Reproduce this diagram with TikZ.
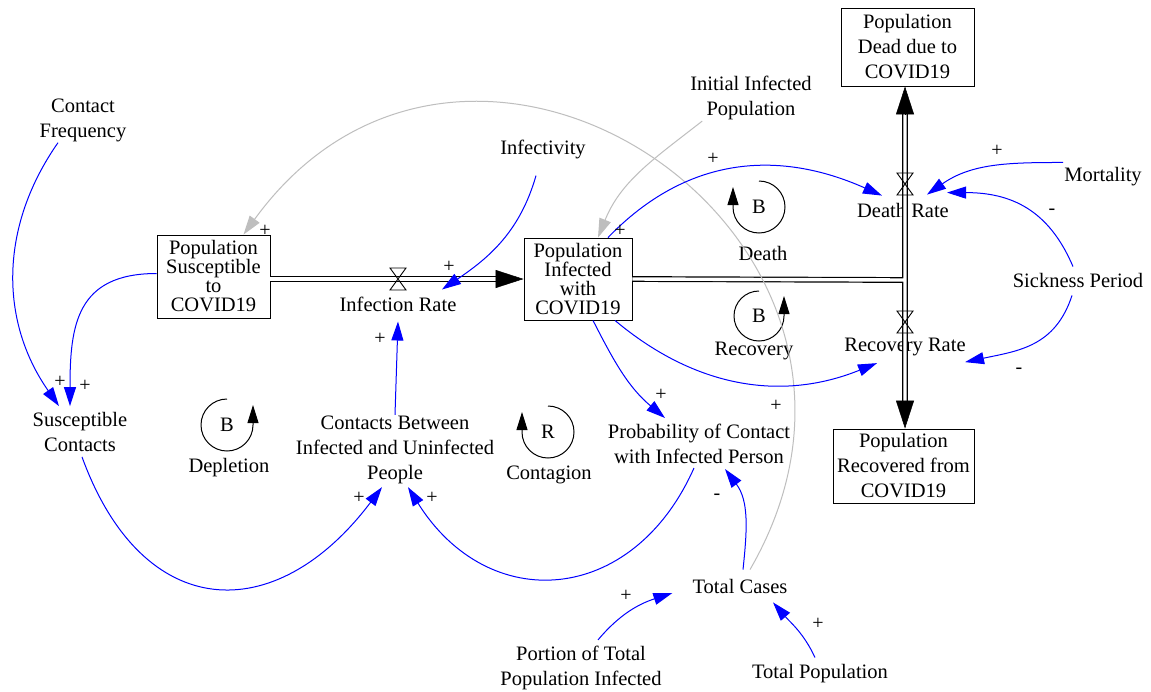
\documentclass[tikz,border=0pt]{standalone}
\usepackage{fontspec}
\setmainfont{Liberation Serif}
\usetikzlibrary{positioning,arrows.meta,calc}
\definecolor{linkblue}{RGB}{0,0,255}
\definecolor{linkgray}{RGB}{190,190,190}
\newcommand{\labelfont}{\fontsize{20.5}{25}\selectfont}
\newcommand{\tightfont}{\fontsize{20.5}{19}\selectfont\lineskiplimit=-20pt}
\newcommand{\hourglass}[1]{\draw[line width=0.9pt] (#1.north west) -- (#1.north east) -- (#1.south west) -- (#1.south east) -- cycle;}

\begin{document}
\begin{tikzpicture}[
    x=1pt, y=-1pt,
    stock/.style={rectangle, draw=black, line width=0.9pt, fill=white, align=center, font=\labelfont, inner sep=0pt},
    aux/.style={align=center, font=\labelfont, inner sep=1pt},
    sign/.style={font=\fontsize{20}{20}\selectfont, inner sep=0pt},
    loopsym/.style={font=\labelfont, inner sep=0pt},
    pipe/.style={draw=black, line width=1.2pt, double=white, double distance=3.4pt},
    pipehead/.style={-{Triangle[length=28pt,width=18pt]}, line width=0.5pt},
    valve/.style={minimum width=16pt, minimum height=22pt, inner sep=0pt, outer sep=0pt},
    link/.style={draw=linkblue, line width=1pt, -{Triangle[length=19pt,width=12pt]}},
    glink/.style={draw=linkgray, line width=1pt, -{Triangle[length=19pt,width=12pt]}},
    loopline/.style={draw=black, line width=1pt, -{Triangle[length=18pt,width=11pt]}}
]
    \path[use as bounding box, fill=white] (0,0) rectangle (1151,691);

    % stocks
    \node[stock, minimum width=113pt, minimum height=83pt, font=\tightfont] (sus) at (213.5,276.5) {Population\\Susceptible\\to\\COVID19};
    \node[stock, minimum width=108pt, minimum height=82pt, font=\tightfont] (inf) at (578,279) {Population\\Infected\\with\\COVID19};
    \node[stock, minimum width=133pt, minimum height=78pt] (dead) at (907.5,47) {Population\\Dead due to\\COVID19};
    \node[stock, minimum width=141pt, minimum height=74pt] (rec) at (903.5,466) {Population\\Recovered from\\COVID19};

    % auxiliaries and rates
    \node[aux] (cf)   at (83,120)   {Contact\\Frequency};
    \node[aux] (inft) at (543,149)  {Infectivity};
    \node[aux] (iip)  at (751,98)   {Initial Infected\\Population};
    \node[aux] (mort) at (1103,177) {Mortality};
    \node[aux] (sick) at (1078,280) {Sickness Period};
    \node[aux] (sc)   at (80,432)   {Susceptible\\Contacts};
    \node[aux] (cb)   at (395,450)  {Contacts Between\\Infected and Uninfected\\People};
    \node[aux] (pc)   at (699,444)  {Probability of Contact\\with Infected Person};
    \node[aux] (tc)   at (740,586)  {Total Cases};
    \node[aux] (ptp)  at (581,668)  {Portion of Total\\Population Infected};
    \node[aux] (tp)   at (820,674)  {Total Population};
    \node[aux] (ir)   at (398,304)  {Infection Rate};
    \node[aux] (dr)   at (903,210)  {Death Rate};
    \node[aux] (rr)   at (905,347)  {Recovery Rate};

    % flows
    \coordinate (jn) at (905,280);
    \draw[pipe] (sus.east |- inf.west) -- ([xshift=-27pt]inf.west);
    \draw[pipehead] ([xshift=-28pt]inf.west) -- (inf.west);
    \draw[pipe] (inf.east) -- (jn) ($(jn |- dead.south)+(0,27)$) -- ($(jn |- rec.north)+(0,-27)$);
    \draw[pipehead] ($(jn |- dead.south)+(0,28)$) -- (jn |- dead.south);
    \draw[pipehead] ($(jn |- rec.north)+(0,-28)$) -- (jn |- rec.north);

    \node[valve] (vInf)   at (398,279) {};
    \node[valve] (vDeath) at (905,184) {};
    \node[valve] (vRec)   at (905,322) {};
    \hourglass{vInf}
    \hourglass{vDeath}
    \hourglass{vRec}

    % loop markers
    \node[loopsym] (lpDeath) at (759,207) {B};
    \node[aux] (lpDeathLbl) at (763,253) {Death};
    \node[loopsym] (lpRec) at (759,316) {B};
    \node[aux] (lpRecLbl) at (754,351) {Recovery};
    \node[loopsym] (lpDepl) at (227,425) {B};
    \node[aux] (lpDeplLbl) at (229,468) {Depletion};
    \node[loopsym] (lpCont) at (548,432) {R};
    \node[aux] (lpContLbl) at (549,475) {Contagion};

    \draw[loopline] ([shift={(90:26pt)}]lpDeath.center) arc[start angle=90, end angle=-180, radius=26pt] -- ++(0pt,20pt);
    \draw[loopline] ([shift={(90:25pt)}]lpRec.center) arc[start angle=90, end angle=360, radius=25pt] -- ++(0pt,20pt);
    \draw[loopline] ([shift={(90:26pt)}]lpDepl.center) arc[start angle=90, end angle=360, radius=26pt] -- ++(0pt,20pt);
    \draw[loopline] ([shift={(90:26pt)}]lpCont.center) arc[start angle=90, end angle=-180, radius=26pt] -- ++(0pt,20pt);

    % gray links
    \draw[glink] ([xshift=10pt,yshift=8pt]tc.north) to[out=60, in=54, looseness=1.62] ([xshift=30pt]sus.north);
    \draw[glink] ([xshift=13pt]iip.south west) to[out=218, in=68] ([xshift=20pt]inf.north);

    % causal links
    \draw[link] ([xshift=-25pt]cf.south) to[out=235, in=125] ([xshift=-21pt,yshift=5pt]sc.north);
    \draw[link] ([yshift=3pt]sus.west) to[out=180, in=90, looseness=1.3] ([xshift=-10pt,yshift=5pt]sc.north);
    \draw[link] ([xshift=2pt,yshift=-4pt]sc.south) to[out=290, in=233, looseness=1.5] ([xshift=-13pt,yshift=-2pt]cb.south);
    \draw[link] ([xshift=-5pt,yshift=-3pt]pc.south) to[out=246, in=302, looseness=1.35] ([xshift=13pt,yshift=-2pt]cb.south);
    \draw[link] (cb.north) -- ([yshift=-9pt]ir.south);
    \draw[link] ([xshift=-7pt,yshift=-16pt]inft.south) to[out=254, in=34] ([xshift=44pt,yshift=6pt]ir.north);
    \draw[link] ([xshift=30pt]inf.north) to[out=46, in=156, looseness=1.05] ([xshift=-21pt,yshift=6pt]dr.north);
    \draw[link] ([xshift=37pt]inf.south) to[out=-40, in=202] ([xshift=-28pt,yshift=-6pt]rr.south);
    \draw[link] ([xshift=15pt]inf.south) to[out=297, in=140] ([xshift=-34pt,yshift=5pt]pc.north);
    \draw[link] ([yshift=4pt]mort.north west) to[out=180, in=35] ([xshift=24pt,yshift=7pt]dr.north);
    \draw[link] ([xshift=-5pt,yshift=5pt]sick.north) to[out=113, in=0, looseness=1.1] ([xshift=44pt,yshift=9pt]dr.north);
    \draw[link] ([xshift=-6pt,yshift=-7pt]sick.south) to[out=252, in=12, looseness=1.1] ([xshift=60pt,yshift=-5pt]rr.south);
    \draw[link] ([xshift=3pt,yshift=8pt]tc.north) to[out=84, in=307] ([xshift=26pt,yshift=-4pt]pc.south);
    \draw[link] ([xshift=17pt,yshift=5pt]ptp.north) to[out=50, in=198] ([xshift=-19pt,yshift=-7pt]tc.west);
    \draw[link] ([xshift=-5pt,yshift=6pt]tp.north) to[out=115, in=311] ([xshift=33pt,yshift=-8pt]tc.south);

    % polarities
    \node[sign] (sgSus)    at (265,231)  {+};
    \node[sign] (sgIr)     at (449,267)  {+};
    \node[sign] (sgCb)     at (380,339)  {+};
    \node[sign] (sgCf)     at (60,382)   {+};
    \node[sign] (sgSc)     at (85,386)   {+};
    \node[sign] (sgScCb)   at (359,498)  {+};
    \node[sign] (sgPcCb)   at (432,498)  {+};
    \node[sign] (sgInfPc)  at (661,395)  {+};
    \node[sign] (sgGray)   at (776,406)  {+};
    \node[sign] (sgTcPc)   at (717,497)  {-};
    \node[sign] (sgPtp)    at (626,596)  {+};
    \node[sign] (sgTp)     at (818,624)  {+};
    \node[sign] (sgInfDr)  at (713,159)  {+};
    \node[sign] (sgInf)    at (620,231)  {+};
    \node[sign] (sgMort)   at (997,151)  {+};
    \node[sign] (sgSickDr) at (1052,212) {-};
    \node[sign] (sgSickRr) at (1019,371) {-};
\end{tikzpicture}
\end{document}
